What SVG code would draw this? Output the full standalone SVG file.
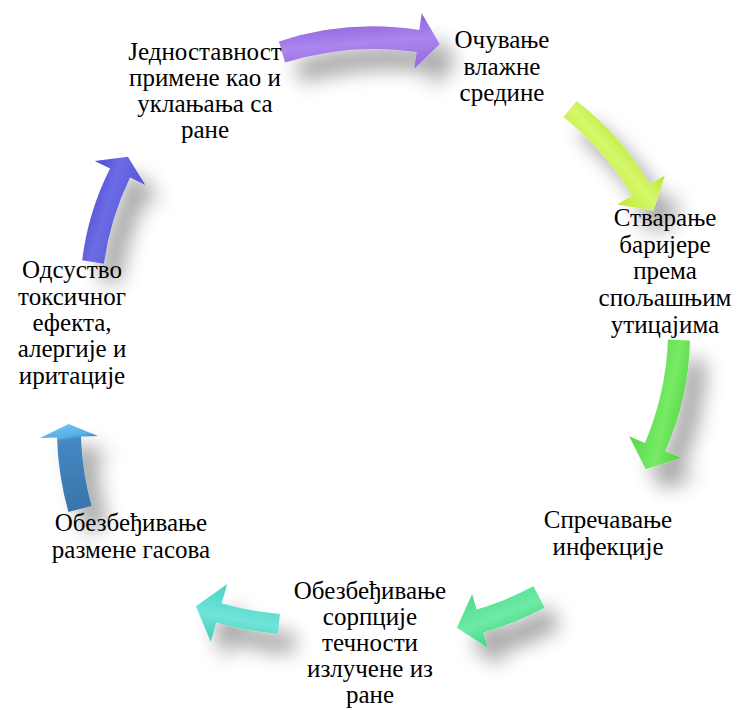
<svg xmlns="http://www.w3.org/2000/svg" width="747" height="710" viewBox="0 0 747 710">
<style>
.t{font-family:"Liberation Serif","DejaVu Serif",serif;font-size:25px;fill:#000;text-anchor:middle}
</style>
<defs>
<filter id="sh" x="-50%" y="-50%" width="200%" height="200%">
<feGaussianBlur in="SourceAlpha" stdDeviation="10"/>
<feOffset dx="16" dy="20" result="o"/>
<feComponentTransfer><feFuncA type="linear" slope="0.36"/></feComponentTransfer>
<feMerge><feMergeNode/><feMergeNode in="SourceGraphic"/></feMerge>
</filter>
<linearGradient id="gPur" x1="0" y1="0" x2="0" y2="1"><stop offset="0" stop-color="#8f62dc"/><stop offset="0.45" stop-color="#ab86ee"/><stop offset="1" stop-color="#9468dc"/></linearGradient>
<linearGradient id="gYel" x1="0" y1="0" x2="0" y2="1"><stop offset="0" stop-color="#b8e430"/><stop offset="0.45" stop-color="#d6f86c"/><stop offset="1" stop-color="#c0ea3a"/></linearGradient>
<linearGradient id="gGrn" x1="0" y1="0" x2="0" y2="1"><stop offset="0" stop-color="#4cd23c"/><stop offset="0.45" stop-color="#78ea66"/><stop offset="1" stop-color="#56d846"/></linearGradient>
<linearGradient id="gTea" x1="0" y1="0" x2="0" y2="1"><stop offset="0" stop-color="#40d47e"/><stop offset="0.45" stop-color="#6eeaa6"/><stop offset="1" stop-color="#4cdc8a"/></linearGradient>
<linearGradient id="gCya" x1="0" y1="0" x2="0" y2="1"><stop offset="0" stop-color="#40ccbc"/><stop offset="0.45" stop-color="#70e4d8"/><stop offset="1" stop-color="#48d4c4"/></linearGradient>
<linearGradient id="gBlu" x1="0" y1="0" x2="1" y2="0"><stop offset="0" stop-color="#3a74aa"/><stop offset="0.82" stop-color="#4488c2"/><stop offset="0.86" stop-color="#58aee4"/><stop offset="1" stop-color="#6cc2f2"/></linearGradient>
<linearGradient id="gInd" x1="0" y1="0" x2="0" y2="1"><stop offset="0" stop-color="#4c4cd0"/><stop offset="0.45" stop-color="#6c6ce6"/><stop offset="1" stop-color="#5454d6"/></linearGradient>
</defs>
<rect width="747" height="710" fill="#fff"/>
<g id="connectors">
<g filter="url(#sh)"><path transform="translate(282,52) rotate(-4.6)" fill="url(#gPur)" d="M-2.2,-10.8 Q68.2,-27.8 138.6,-10.8 L142.4,-27.3 L157.9,4.9 L130.4,27.3 L134.2,10.8 Q68.2,-4.2 2.2,10.8 Z"/></g>
<g filter="url(#sh)"><path transform="translate(570,109) rotate(48.8)" fill="url(#gYel)" d="M-1.7,-10.35 Q53.85,-21.3 109.4,-10.35 L112.5,-27.6 L131.3,4.2 L102.9,27.6 L106,10.35 Q53.85,1 1.7,10.35 Z"/></g>
<g filter="url(#sh)"><path transform="translate(679,340) rotate(102.6)" fill="url(#gGrn)" d="M-1.8,-10.84 Q54.85,-22.2 111.5,-10.84 L114.6,-27.6 L133.3,4.3 L104.8,27.6 L107.9,10.84 Q54.85,1.14 1.8,10.84 Z"/></g>
<g filter="url(#sh)"><path transform="translate(539,597) rotate(157.9)" fill="url(#gTea)" d="M-1.16,-11.94 Q31.85,-15.4 64.9,-11.94 L66.55,-27.85 L87.6,2.5 L60.85,27.85 L62.5,11.94 Q31.85,8.68 1.16,11.94 Z"/></g>
<g filter="url(#sh)"><path transform="translate(279,624) rotate(190.4)" fill="url(#gCya)" d="M-0.91,-9.95 Q30.5,-13.15 61.9,-9.95 L63.9,-29.9 L84.9,2.4 L58.1,29.9 L60.1,9.95 Q30.5,6.95 0.91,9.95 Z"/></g>
<g filter="url(#sh)"><path transform="translate(80,509) rotate(-98.7)" fill="url(#gBlu)" d="M-1.33,-11.92 Q36.4,-16.5 74.1,-11.92 L76.2,-28.8 L85.7,1.6 L69.4,28.8 L71.5,11.92 Q36.4,7.66 1.33,11.92 Z"/></g>
<g filter="url(#sh)"><path transform="translate(93,262) rotate(-73.1)" fill="url(#gInd)" d="M-1.53,-10.88 Q46.5,-19.3 94.5,-10.88 L97.1,-27.7 L110.8,2.8 L88.9,27.7 L91.5,10.88 Q46.5,3.9 1.53,10.88 Z"/></g>
</g>
<g id="node1"><text class="t" x="205" y="60">Једноставност</text><text class="t" x="205" y="86">примене као и</text><text class="t" x="205" y="112">уклањања са</text><text class="t" x="205" y="138">ране</text></g>
<g id="node2"><text class="t" x="502" y="48">Очување</text><text class="t" x="502" y="75">влажне</text><text class="t" x="502" y="101">средине</text></g>
<g id="node3"><text class="t" x="665" y="226">Стварање</text><text class="t" x="665" y="253">баријере</text><text class="t" x="665" y="279">према</text><text class="t" x="665" y="306">спољашњим</text><text class="t" x="665" y="333">утицајима</text></g>
<g id="node4"><text class="t" x="608" y="528">Спречавање</text><text class="t" x="608" y="555">инфекције</text></g>
<g id="node5"><text class="t" x="370" y="599">Обезбеђивање</text><text class="t" x="370" y="625">сорпције</text><text class="t" x="370" y="651">течности</text><text class="t" x="370" y="677">излучене из</text><text class="t" x="370" y="703">ране</text></g>
<g id="node6"><text class="t" x="131" y="531">Обезбеђивање</text><text class="t" x="131" y="558">размене гасова</text></g>
<g id="node7"><text class="t" x="72" y="278">Одсуство</text><text class="t" x="72" y="305">токсичног</text><text class="t" x="72" y="331">ефекта,</text><text class="t" x="72" y="357">алергије и</text><text class="t" x="72" y="384">иритације</text></g>
</svg>
